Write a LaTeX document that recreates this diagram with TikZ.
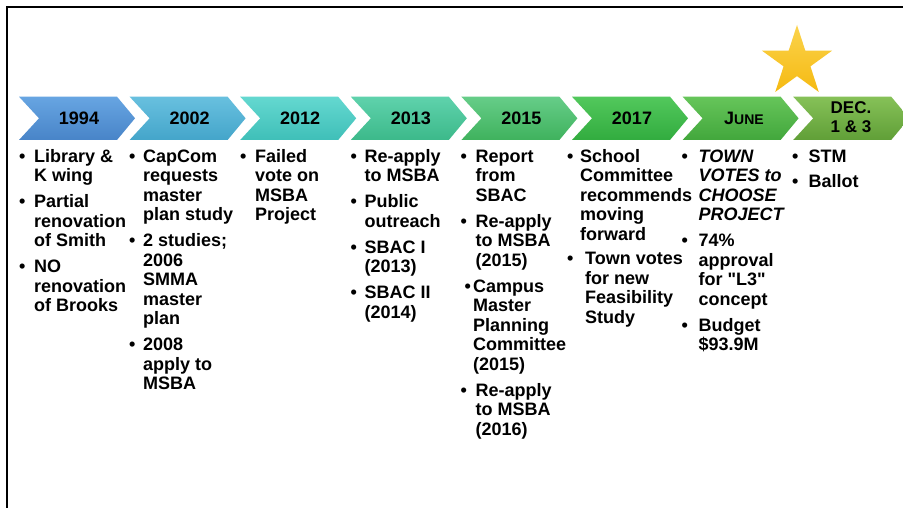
\documentclass[tikz,border=0pt]{standalone}
\usepackage{fontspec}
\setmainfont{Liberation Sans}
\usetikzlibrary{calc}
\definecolor{caT}{HTML}{67A5E2}\definecolor{caB}{HTML}{4884C8}
\definecolor{cbT}{HTML}{68C0DF}\definecolor{cbB}{HTML}{44A5CA}
\definecolor{ccT}{HTML}{64D8D0}\definecolor{ccB}{HTML}{3FBFB8}
\definecolor{cdT}{HTML}{5FD2AC}\definecolor{cdB}{HTML}{3CB98A}
\definecolor{ceT}{HTML}{66CD88}\definecolor{ceB}{HTML}{3FB25D}
\definecolor{cfT}{HTML}{52C85C}\definecolor{cfB}{HTML}{32AC3F}
\definecolor{cgT}{HTML}{66C55A}\definecolor{cgB}{HTML}{42A73C}
\definecolor{chT}{HTML}{86C158}\definecolor{chB}{HTML}{609F37}
\definecolor{starT}{HTML}{FBD34C}\definecolor{starB}{HTML}{F5BA12}
\newcommand\bulx[1]{\makebox[#1pt][l]{\textbullet}}
\newcommand\indx[1]{\hspace*{#1pt}}
\newcommand\sq{\XeTeXglyph\XeTeXcharglyph34\relax}
\tikzset{
  lbl/.style={font=\fontsize{18}{20}\selectfont\bfseries, inner sep=0pt, anchor=base},
  col/.style={font=\fontsize{18}{19.5}\selectfont\bfseries, align=left, inner sep=0pt, anchor=north west},
  frame/.style={line width=2pt, black}
}
\begin{document}
\begin{tikzpicture}[x=1pt,y=-1pt]
\useasboundingbox (0,0) rectangle (903,508);
\fill[white] (0,0) rectangle (903,508);
\clip (0,0) rectangle (903,508);
\draw[frame] (7,508) -- (7,7) -- (904,7);
% chevrons
\foreach \i/\ct/\cb in {0/caT/caB,1/cbT/cbB,2/ccT/ccB,3/cdT/cdB,4/ceT/ceB,5/cfT/cfB,6/cgT/cgB,7/chT/chB}{
  \pgfmathsetmacro\xo{19+110.6*\i}
  \shade[top color=\ct, bottom color=\cb] (\xo,96.7) -- ++(98,0) -- ++(18,21.6) -- ++(-18,21.7) -- ++(-98,0) -- ++(20,-21.7) -- cycle;
}
% star
\coordinate (sc) at (797,62);
\shade[top color=starT, bottom color=starB]
  ($(sc)+(-90:37)$) -- ($(sc)+(-54:14.1)$) -- ($(sc)+(-18:37)$) -- ($(sc)+(18:14.1)$)
  -- ($(sc)+(54:37)$) -- ($(sc)+(90:14.1)$) -- ($(sc)+(126:37)$) -- ($(sc)+(162:14.1)$)
  -- ($(sc)+(198:37)$) -- ($(sc)+(234:14.1)$) -- cycle;
% chevron labels
\node[lbl] (y1994) at (79,125) {1994};
\node[lbl] (y2002) at (189.6,125) {2002};
\node[lbl] (y2012) at (300.2,125) {2012};
\node[lbl] (y2013) at (410.8,125) {2013};
\node[lbl] (y2015) at (521.4,125) {2015};
\node[lbl] (y2017) at (632,125) {2017};
\node[lbl] (yjune) at (744,125) {J\fontsize{14}{14}\selectfont UNE};
\node[lbl, font=\fontsize{17}{17.5}\selectfont\bfseries] (ydec) at (851,113.5) {DEC.};
\node[lbl, font=\fontsize{17}{17.5}\selectfont\bfseries] (ydec2) at (851,133) {1 \& 3};
% columns
\node[col] (c1) at (19,148.4) {\strut\bulx{15}Library \&\\ \indx{15}K wing\\[6.5pt]
  \bulx{15}Partial\\ \indx{15}renovation\\ \indx{15}of Smith\\[6.5pt]
  \bulx{15}NO\\ \indx{15}renovation\\ \indx{15}of Brooks};
\node[col] (c2) at (129,148.4) {\strut\bulx{14}CapCom\\ \indx{14}requests\\ \indx{14}master\\ \indx{14}plan study\\[6.5pt]
  \bulx{14}2 studies;\\ \indx{14}2006\\ \indx{14}SMMA\\ \indx{14}master\\ \indx{14}plan\\[6.5pt]
  \bulx{14}2008\\ \indx{14}apply to\\ \indx{14}MSBA};
\node[col] (c3) at (240,148.4) {\strut\bulx{15}Failed\\ \indx{15}vote on\\ \indx{15}MSBA\\ \indx{15}Project};
\node[col] (c4) at (350.5,148.4) {\strut\bulx{14}Re-apply\\ \indx{14}to MSBA\\[6.5pt]
  \bulx{14}Public\\ \indx{14}outreach\\[6.5pt]
  \bulx{14}SBAC I\\ \indx{14}(2013)\\[6.5pt]
  \bulx{14}SBAC II\\ \indx{14}(2014)};
\node[col] (c5) at (460.5,148.4) {\strut\bulx{15}Report\\ \indx{15}from\\ \indx{15}SBAC\\[6.5pt]
  \bulx{15}Re-apply\\ \indx{15}to MSBA\\ \indx{15}(2015)\\[6.5pt]
  \indx{4}\bulx{8.5}Campus\\ \indx{12.5}Master\\ \indx{12.5}Planning\\ \indx{12.5}Committee\\ \indx{12.5}(2015)\\[6.5pt]
  \bulx{15}Re-apply\\ \indx{15}to MSBA\\ \indx{15}(2016)};
\node[col] (c6) at (567,148.4) {\strut\bulx{13}School\\ \indx{13}Committee\\ \indx{13}recommends\\ \indx{13}moving\\ \indx{13}forward\\[5pt]
  \bulx{18}Town votes\\ \indx{18}for new\\ \indx{18}Feasibility\\ \indx{18}Study};
\node[col] (c7) at (681.5,148.4) {\strut\bulx{17}\textit{TOWN}\\ \indx{17}\textit{VOTES to}\\ \indx{17}\textit{CHOOSE}\\ \indx{17}\textit{PROJECT}\\[6.5pt]
  \bulx{17}74\%\\ \indx{17}approval\\ \indx{17}for \sq L3\sq\\ \indx{17}concept\\[6.5pt]
  \bulx{17}Budget\\ \indx{17}\$93.9M};
\node[col] (c8) at (792,148.4) {\strut\bulx{16.5}STM\\[6pt] \bulx{16.5}Ballot};
\end{tikzpicture}
\end{document}
